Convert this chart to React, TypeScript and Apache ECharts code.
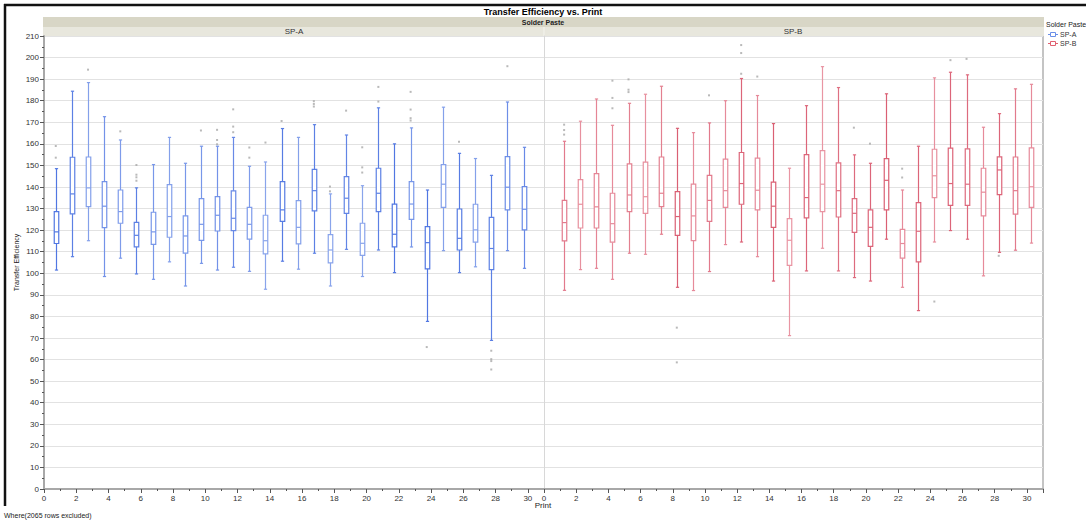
import React, { useEffect, useRef } from "react";
import * as echarts from "echarts";

// ---------- DATA ----------
const PRINTS = [1, 2, 3, 4, 5, 6, 7, 8, 9, 10, 11, 12, 13, 14, 15, 16, 17, 18, 19, 20, 21, 22, 23, 24, 25, 26, 27, 28, 29, 30];
const X_TICKS = [0, 2, 4, 6, 8, 10, 12, 14, 16, 18, 20, 22, 24, 26, 28, 30];

// SP-A box statistics
const LOW_A = [101.5, 107.7, 115.1, 98.5, 107, 99.7, 97.2, 105.3, 94.1, 104.6, 101.5, 102.8, 100.9, 92.6, 105.6, 101.9, 109.3, 94.1, 111.1, 98.5, 110.8, 100.3, 112.2, 77.7, 110.5, 100.3, 103, 68.9, 110.5, 102.3];
const Q1_A = [113.8, 127.5, 130.9, 121.2, 123.2, 112.2, 113.4, 116.7, 109.3, 115.3, 119.6, 119.8, 115.8, 109, 124.1, 113.6, 128.9, 104.8, 127.8, 108.3, 128.6, 112.2, 125, 102, 130.6, 110.8, 114.4, 101.7, 129.4, 120.1];
const MED_A = [119.2, 136.8, 139.6, 131.1, 128.6, 117.6, 119.2, 126.3, 117.3, 122.7, 126.9, 125.5, 122.7, 115.1, 129.4, 121.3, 138.3, 110.8, 134.8, 113.9, 137.1, 118.1, 132.1, 114.2, 141.3, 116.2, 120.1, 111.5, 139.9, 129.7];
const Q3_A = [128.6, 153.8, 153.9, 142.5, 138.6, 123.6, 128.3, 141.1, 126.6, 134.6, 135.5, 138.2, 130.6, 126.9, 142.5, 133.7, 148.2, 117.9, 144.8, 123.2, 148.7, 132.1, 142.5, 121.6, 150.4, 129.8, 132, 125.9, 154.1, 140.2];
const HIGH_A = [148.5, 184.4, 188.4, 172.6, 161.8, 139.6, 150.4, 163, 151, 158.9, 158.9, 163, 149.6, 151.6, 167.1, 163, 168.9, 136.8, 164.1, 140.6, 176.7, 160, 167.4, 138.6, 177, 155.6, 153.2, 145.4, 179.4, 158.4];
const OUT_A: [number, number][] = [
  [1, 159], [1, 153.6], [3, 194.4], [5, 165.8], [6, 150.2], [6, 145.7], [6, 144.5], [6, 142.9],
  [10, 166.2], [11, 166.5], [11, 161.8], [11, 159.8], [12, 176], [12, 168], [12, 165.4],
  [13, 158.3], [13, 153.6], [14, 160.6], [15, 170.6], [17, 179.8], [17, 178.5], [17, 177.3],
  [18, 140.2], [18, 138], [19, 175.4], [20, 158.4], [20, 149.1], [20, 146.7], [21, 186.4], [21, 179.6],
  [23, 184.1], [23, 175.9], [23, 171.9], [23, 170.8], [24, 65.8], [26, 161],
  [28, 64.1], [28, 60.2], [28, 59.3], [28, 55.4], [29, 196]
];

// SP-B box statistics
const LOW_B = [92.1, 101.7, 102.3, 97.2, 109.3, 108.8, 118.1, 93.5, 92, 100.8, 113.3, 114.5, 107.7, 96.4, 71.1, 101.1, 111.6, 101.1, 98, 96.4, 115.8, 93.5, 82.7, 114.5, 119.8, 115.8, 98.8, 109.7, 110.7, 114];
const Q1_B = [115, 121, 121, 114.4, 128.6, 127.8, 130.9, 117.6, 115.1, 124.1, 130.6, 132, 129.4, 121.3, 103.7, 125.7, 128.6, 126.1, 119, 112.5, 129.4, 107, 105.3, 135.1, 131.5, 131.5, 126.6, 136.5, 127.4, 130.6];
const MED_B = [123.5, 132, 130.8, 123, 136.3, 135.5, 137.1, 126.3, 126.6, 133.8, 138.3, 141.6, 138.5, 131.1, 115.3, 135.1, 141.3, 138.3, 127.8, 121.3, 143.1, 113.8, 119.5, 145.2, 141.6, 141.3, 137.6, 147.9, 138.3, 140.1];
const Q3_B = [133.8, 143.4, 146.2, 137.1, 150.7, 151.5, 153.9, 137.9, 141.3, 145.4, 152.9, 156, 153.4, 142.3, 125.3, 155, 156.9, 151.2, 134.6, 129.4, 153.2, 120.4, 132.8, 157.5, 158, 157.7, 148.7, 154, 153.9, 158.1];
const HIGH_B = [161.2, 170.5, 180.8, 168.6, 178.8, 183, 186.7, 167.2, 165.2, 169.7, 180, 190.3, 182.4, 169.4, 148.7, 177.7, 195.8, 186.1, 154.9, 151, 183.2, 138.6, 158.9, 190.6, 193.2, 192, 167.7, 174, 185.5, 187.6];
const OUT_B: [number, number][] = [
  [1, 168.9], [1, 166.4], [1, 164.3], [4, 189.3], [4, 181.3], [4, 176.5], [5, 189.9], [5, 185.1], [5, 184],
  [8, 74.8], [8, 58.7], [10, 182.5], [12, 205.8], [12, 202.1], [12, 192.5], [13, 191.2],
  [19, 167.5], [20, 160.1], [22, 148.5], [22, 144.4], [24, 86.9], [25, 198.8], [26, 199.4], [28, 108.1]
];

// colour intensity of each box (0 = pale, 1 = saturated)
const SHADE_A = [0.9, 0.8, 0.45, 0.6, 0.5, 0.8, 0.55, 0.45, 0.55, 0.55, 0.6, 0.7, 0.5, 0.4, 0.85, 0.45, 0.8, 0.4, 0.75, 0.4, 0.8, 0.9, 0.55, 0.9, 0.45, 0.85, 0.45, 0.8, 0.65, 0.7];
const SHADE_B = [0.6, 0.4, 0.5, 0.45, 0.55, 0.4, 0.55, 0.85, 0.45, 0.6, 0.45, 0.8, 0.45, 0.85, 0.35, 0.8, 0.35, 0.7, 0.75, 0.8, 0.85, 0.45, 0.8, 0.4, 0.8, 0.75, 0.45, 0.8, 0.6, 0.45];

// ---------- STYLE ----------
const FONT = "'Liberation Sans', Arial, sans-serif";
const BLUE_LIGHT = [182, 200, 243];
const BLUE_STRONG = [70, 110, 224];
const RED_LIGHT = [243, 186, 196];
const RED_STRONG = [214, 80, 102];
const OFFSET_A = -0.27;
const OFFSET_B = 0.25;
const BOX_W = 0.28;
const CAP_W = 0.2;

function mix(a: number[], b: number[], t: number) {
  const c = a.map((v, i) => Math.round(v + (b[i] - v) * t));
  return `rgb(${c[0]},${c[1]},${c[2]})`;
}

function makeRender(offset: number, light: number[], strong: number[]) {
  return (params: any, api: any) => {
    const x = api.value(0) + offset;
    const lo = api.coord([x, api.value(1)]);
    const q1 = api.coord([x, api.value(2)]);
    const md = api.coord([x, api.value(3)]);
    const q3 = api.coord([x, api.value(4)]);
    const hi = api.coord([x, api.value(5)]);
    const color = mix(light, strong, api.value(6));
    const bw = api.size([BOX_W, 0])[0];
    const cw = api.size([CAP_W, 0])[0];
    const cx = Math.round(lo[0]) + 0.5;
    const st = { stroke: color, lineWidth: 1.2, fill: "none" };
    return {
      type: "group",
      children: [
        { type: "line", shape: { x1: cx, y1: hi[1], x2: cx, y2: q3[1] }, style: st },
        { type: "line", shape: { x1: cx, y1: q1[1], x2: cx, y2: lo[1] }, style: st },
        { type: "line", shape: { x1: cx - cw / 2, y1: hi[1], x2: cx + cw / 2, y2: hi[1] }, style: st },
        { type: "line", shape: { x1: cx - cw / 2, y1: lo[1], x2: cx + cw / 2, y2: lo[1] }, style: st },
        { type: "rect", shape: { x: cx - bw / 2, y: q3[1], width: bw, height: q1[1] - q3[1] }, style: { ...st, fill: "#fff" } },
        { type: "line", shape: { x1: cx - bw / 2, y1: md[1], x2: cx + bw / 2, y2: md[1] }, style: st }
      ]
    };
  };
}

export default function App() {
  const ref = useRef<HTMLDivElement>(null);
  useEffect(() => {
    if (!ref.current) return;
    const chart = echarts.init(ref.current, undefined, { renderer: "svg" });
    const dataA = PRINTS.map((p, i) => [p, LOW_A[i], Q1_A[i], MED_A[i], Q3_A[i], HIGH_A[i], SHADE_A[i]]);
    const dataB = PRINTS.map((p, i) => [p, LOW_B[i], Q1_B[i], MED_B[i], Q3_B[i], HIGH_B[i], SHADE_B[i]]);
    const gridTop = 36;
    const gridH = 453;
    const mainX = (gi: number) => ({
      type: "value",
      gridIndex: gi,
      position: "bottom",
      min: 0,
      max: 31,
      interval: 1,
      axisLine: { show: true, lineStyle: { color: "#a8a8a8", width: 2 } },
      axisTick: { show: true, length: 2, lineStyle: { color: "#555" } },
      axisLabel: {
        fontSize: 8,
        color: "#333",
        fontFamily: FONT,
        margin: 5,
        formatter: (v: number) => (X_TICKS.indexOf(v) >= 0 ? String(v) : "")
      },
      splitLine: { show: false }
    });
    const majorX = (gi: number) => ({
      type: "value",
      gridIndex: gi,
      position: "bottom",
      offset: 0,
      min: 0,
      max: 31,
      interval: 2,
      axisLine: { show: false },
      axisTick: { show: true, length: 4, lineStyle: { color: "#555" } },
      axisLabel: { show: false },
      splitLine: { show: false }
    });
    const yAx = (gi: number) => ({
      type: "value",
      gridIndex: gi,
      min: 0,
      max: 210,
      interval: 10,
      axisLine: { show: true, lineStyle: { color: gi === 0 ? "#a8a8a8" : "#d8d8d8", width: gi === 0 ? 2 : 1 } },
      axisTick: { show: gi === 0, length: 4, lineStyle: { color: "#555" } },
      minorTick: { show: gi === 0, splitNumber: 2, length: 2, lineStyle: { color: "#555" } },
      axisLabel: { show: gi === 0, fontSize: 8, color: "#333", fontFamily: FONT, margin: 5 },
      splitLine: { show: true, lineStyle: { color: "#e2e2e2", width: 1 } },
      name: gi === 0 ? "Transfer Efficiency" : "",
      nameLocation: "middle",
      nameGap: 24,
      nameTextStyle: { fontSize: 7, color: "#222", fontFamily: FONT }
    });
    chart.setOption({
      animation: false,
      backgroundColor: "#fff",
      textStyle: { fontFamily: FONT },
      title: {
        text: "Transfer Efficiency vs. Print",
        left: "center",
        top: 2,
        textStyle: { fontSize: 9, fontWeight: "bold", color: "#000", fontFamily: FONT }
      },
      grid: [
        { left: 44, top: gridTop, width: 500, height: gridH },
        { left: 544, top: gridTop, width: 499, height: gridH }
      ],
      xAxis: [mainX(0), mainX(1), majorX(0), majorX(1)],
      yAxis: [yAx(0), yAx(1)],
      series: [
        {
          type: "custom",
          name: "SP-A",
          xAxisIndex: 0,
          yAxisIndex: 0,
          renderItem: makeRender(OFFSET_A, BLUE_LIGHT, BLUE_STRONG),
          encode: { x: 0, y: [1, 2, 3, 4, 5] },
          data: dataA,
          clip: false,
          z: 3
        },
        {
          type: "custom",
          name: "SP-B",
          xAxisIndex: 1,
          yAxisIndex: 1,
          renderItem: makeRender(OFFSET_B, RED_LIGHT, RED_STRONG),
          encode: { x: 0, y: [1, 2, 3, 4, 5] },
          data: dataB,
          clip: false,
          z: 3
        },
        {
          type: "scatter",
          xAxisIndex: 0,
          yAxisIndex: 0,
          symbol: "rect",
          symbolSize: 2,
          itemStyle: { color: "#a8a8a8" },
          data: OUT_A.map(([p, v]) => [p + OFFSET_A, v]),
          z: 4
        },
        {
          type: "scatter",
          xAxisIndex: 1,
          yAxisIndex: 1,
          symbol: "rect",
          symbolSize: 2,
          itemStyle: { color: "#a8a8a8" },
          data: OUT_B.map(([p, v]) => [p + OFFSET_B, v]),
          z: 4
        }
      ],
      graphic: [
        // outer frame
        { type: "line", shape: { x1: 4, y1: 5, x2: 1086, y2: 5 }, style: { stroke: "#111", lineWidth: 2.5 } },
        { type: "line", shape: { x1: 5, y1: 4, x2: 5, y2: 506 }, style: { stroke: "#111", lineWidth: 2.5 } },
        // header bands
        { type: "rect", shape: { x: 43, y: 17, width: 1001, height: 10 }, style: { fill: "#d8d6c6" } },
        { type: "rect", shape: { x: 43, y: 27, width: 1001, height: 9 }, style: { fill: "#e8e7dd" } },
        { type: "line", shape: { x1: 544, y1: 27, x2: 544, y2: 36 }, style: { stroke: "#f4f4ee", lineWidth: 1 } },
        {
          type: "text", x: 543, y: 22,
          style: { text: "Solder Paste", fontSize: 7, fontWeight: "bold", fill: "#222", align: "center", verticalAlign: "middle", fontFamily: FONT }
        },
        {
          type: "text", x: 294, y: 31.5,
          style: { text: "SP-A", fontSize: 8, fill: "#333", align: "center", verticalAlign: "middle", fontFamily: FONT }
        },
        {
          type: "text", x: 793, y: 31.5,
          style: { text: "SP-B", fontSize: 8, fill: "#333", align: "center", verticalAlign: "middle", fontFamily: FONT }
        },
        // right border of plot
        { type: "line", shape: { x1: 1043, y1: 36, x2: 1043, y2: 490 }, style: { stroke: "#c4c4c4", lineWidth: 2 } },
        // axis title
        {
          type: "text", x: 543, y: 505,
          style: { text: "Print", fontSize: 8, fill: "#222", align: "center", verticalAlign: "middle", fontFamily: FONT }
        },
        {
          type: "text", x: 4, y: 515,
          style: { text: "Where(2065 rows excluded)", fontSize: 7, fill: "#222", align: "left", verticalAlign: "middle", fontFamily: FONT }
        },
        // legend
        {
          type: "text", x: 1046, y: 24,
          style: { text: "Solder Paste", fontSize: 7, fill: "#222", align: "left", verticalAlign: "middle", fontFamily: FONT }
        },
        { type: "rect", shape: { x: 1050.5, y: 32.5, width: 5, height: 4 }, style: { fill: "none", stroke: "#6a8fe8", lineWidth: 1 } },
        { type: "line", shape: { x1: 1048, y1: 34.5, x2: 1050.5, y2: 34.5 }, style: { stroke: "#6a8fe8", lineWidth: 1 } },
        { type: "line", shape: { x1: 1055.5, y1: 34.5, x2: 1058, y2: 34.5 }, style: { stroke: "#6a8fe8", lineWidth: 1 } },
        {
          type: "text", x: 1060, y: 34.5,
          style: { text: "SP-A", fontSize: 7, fill: "#333", align: "left", verticalAlign: "middle", fontFamily: FONT }
        },
        { type: "rect", shape: { x: 1050.5, y: 41.5, width: 5, height: 4 }, style: { fill: "none", stroke: "#e06070", lineWidth: 1 } },
        { type: "line", shape: { x1: 1048, y1: 43.5, x2: 1050.5, y2: 43.5 }, style: { stroke: "#e06070", lineWidth: 1 } },
        { type: "line", shape: { x1: 1055.5, y1: 43.5, x2: 1058, y2: 43.5 }, style: { stroke: "#e06070", lineWidth: 1 } },
        {
          type: "text", x: 1060, y: 43.5,
          style: { text: "SP-B", fontSize: 7, fill: "#333", align: "left", verticalAlign: "middle", fontFamily: FONT }
        }
      ]
    });
    return () => chart.dispose();
  }, []);
  return (
    <div
      ref={ref}
      style={{ position: "absolute", left: 0, top: 0, width: 1086, height: 521 }}
    />
  );
}
